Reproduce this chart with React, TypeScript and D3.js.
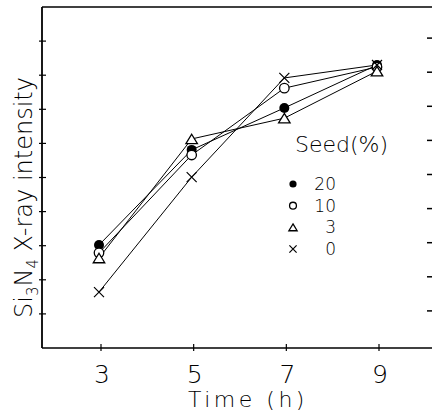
import React from "react";
import * as d3 from "d3";

const times = [3, 5, 7, 9];
const xTickLabels = ["3", "5", "7", "9"];
const yTicks = [1, 2, 3, 4, 5, 6, 7, 8, 9];
const seed20 = [3.02, 5.81, 7.04, 8.3];
const seed10 = [2.79, 5.66, 7.62, 8.24];
const seed3 = [2.64, 6.13, 6.74, 8.12];
const seed0 = [1.64, 5.01, 7.92, 8.3];
const seriesNames = ["20", "10", "3", "0"];
const seriesMarkers = ["dot", "circle", "triangle", "cross"];
const seriesValues = [seed20, seed10, seed3, seed0];

const W = 432;
const H = 415;
const left = 42;
const bottom = 348;
const top = 7;
const right = 432;

const FONT = "'DejaVu Sans', sans-serif";

function Marker({ kind, x, y, s }: { kind: string; x: number; y: number; s: number }) {
  if (kind === "dot") return <circle cx={x} cy={y} r={s} fill="#000" />;
  if (kind === "circle")
    return <circle cx={x} cy={y} r={s * 0.95} fill="#fff" stroke="#000" strokeWidth={1.3} />;
  if (kind === "triangle") {
    const h = s * 1.9;
    const w = s * 1.15;
    return (
      <path
        d={`M${x},${y - h / 2} L${x + w},${y + h / 2} L${x - w},${y + h / 2} Z`}
        fill="#fff"
        stroke="#000"
        strokeWidth={1.3}
      />
    );
  }
  const a = s * 1.0;
  return (
    <path
      d={`M${x - a},${y - a} L${x + a},${y + a} M${x - a},${y + a} L${x + a},${y - a}`}
      stroke="#000"
      strokeWidth={1.2}
      fill="none"
    />
  );
}

export default function App() {
  const x = d3.scaleLinear().domain([3, 9]).range([99, 377]);
  const y = d3.scaleLinear().domain([0, 10]).range([bottom, top]);
  const line = d3
    .line<number>()
    .x((_, i) => x(times[i]))
    .y((v) => y(v));

  const legendX = 293;
  const legendY = d3.scaleLinear().domain([0, 3]).range([184, 249]);

  return (
    <svg
      width={W}
      height={H}
      style={{ position: "absolute", left: 0, top: 0, display: "block", background: "#fff" }}
    >
      <rect x={0} y={0} width={W} height={H} fill="#fff" />
      {/* frame */}
      <line x1={left} y1={top} x2={left} y2={bottom} stroke="#000" strokeWidth={1.8} />
      <line x1={left} y1={bottom} x2={right} y2={bottom} stroke="#000" strokeWidth={1.6} />
      <line x1={left} y1={top} x2={right} y2={top} stroke="#000" strokeWidth={1.5} />
      {/* left ticks */}
      {yTicks.map((t) => (
        <line key={"yl" + t} x1={left - 3} x2={left + 4} y1={y(t)} y2={y(t)} stroke="#000" strokeWidth={1.2} />
      ))}
      {/* right ticks */}
      {yTicks.map((t) => (
        <line key={"yr" + t} x1={right - 5} x2={right} y1={y(t) - 3} y2={y(t) - 3} stroke="#000" strokeWidth={1.5} />
      ))}
      {/* bottom ticks */}
      {times.map((t, i) => (
        <g key={"xt" + t}>
          <line x1={x(t) + 2} x2={x(t) + 2} y1={bottom - 4} y2={bottom + 3} stroke="#000" strokeWidth={1.2} />
          <text
            x={x(t) + 3}
            y={383}
            textAnchor="middle"
            fontFamily={FONT}
            fontSize={25}
            fontWeight={200}
          >
            {xTickLabels[i]}
          </text>
        </g>
      ))}
      <text x={188} y={407} fontFamily={FONT} fontSize={22} fontWeight={200} letterSpacing={3.5}>
        Time (h)
      </text>
      {/* y label */}
      <text
        transform={`translate(32,${318}) rotate(-90)`}
        fontFamily={FONT}
        fontSize={24}
        fontWeight={200}
        textAnchor="start"
      >
        Si
        <tspan fontSize={15} dy={6}>3</tspan>
        <tspan dy={-6}>N</tspan>
        <tspan fontSize={15} dy={6}>4</tspan>
        <tspan dy={-6}> X-ray intensity</tspan>
      </text>
      {/* series lines */}
      {seriesValues.map((vals, si) => (
        <path key={"l" + si} d={line(vals) || ""} fill="none" stroke="#000" strokeWidth={1} />
      ))}
      {/* markers */}
      {seriesValues.map((vals, si) =>
        vals.map((v, i) => (
          <Marker key={"m" + si + "-" + i} kind={seriesMarkers[si]} x={x(times[i])} y={y(v)} s={5} />
        ))
      )}
      {/* legend */}
      <text x={295} y={152} fontFamily={FONT} fontSize={22} fontWeight={200}>
        Seed(%)
      </text>
      {seriesNames.map((n, i) => (
        <g key={"lg" + n}>
          <Marker kind={seriesMarkers[i]} x={legendX} y={legendY(i)} s={3.6} />
          <text
            x={336}
            y={legendY(i) + 6}
            textAnchor="end"
            fontFamily={FONT}
            fontSize={17}
            fontWeight={200}
          >
            {n}
          </text>
        </g>
      ))}
    </svg>
  );
}
